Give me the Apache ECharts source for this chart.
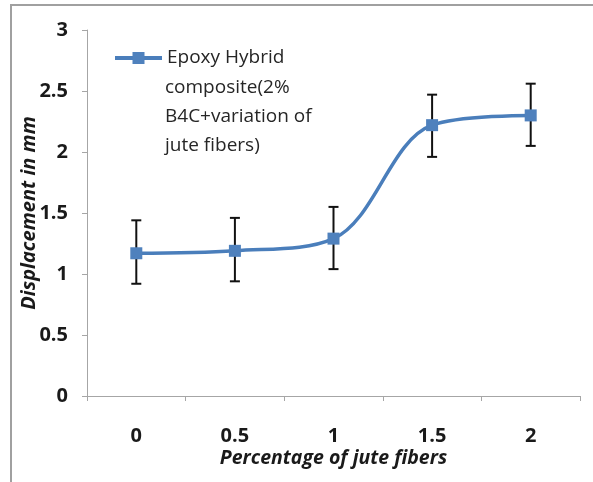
<!DOCTYPE html>
<html>
<head>
<meta charset="utf-8">
<script src="https://cdn.jsdelivr.net/npm/echarts@6/dist/echarts.min.js"></script>
<style>html,body{margin:0;padding:0;background:#fff}#c{width:593px;height:482px}</style>
</head>
<body>
<div id="c"></div>
<script>
var categories = ['0', '0.5', '1', '1.5', '2'];
var displacement = [1.17, 1.19, 1.29, 2.22, 2.30];
var errUpper = [1.44, 1.46, 1.55, 2.47, 2.56];
var errLower = [0.92, 0.94, 1.04, 1.96, 2.05];
var yTicks = [0, 0.5, 1, 1.5, 2, 2.5, 3];
var legendLines = ['Epoxy Hybrid', 'composite(2%', 'B4C+variation of', 'jute fibers)'];
var seriesName = legendLines.join(' ');

var FONT = '"Open Sans", "Noto Sans", sans-serif';
var chart = echarts.init(document.getElementById('c'), null, {renderer: 'canvas'});

var errData = categories.map(function (c, i) { return [i, errLower[i], errUpper[i]]; });

chart.setOption({
  animation: false,
  backgroundColor: '#fff',
  grid: {left: 87, right: 13, top: 30, bottom: 86},
  legend: {
    data: [{name: seriesName}],
    left: 113, top: 43.5, padding: 0,
    itemWidth: 47, itemHeight: 15,
    lineStyle: {width: 4, color: '#4a7ebb'},
    itemStyle: {color: '#4f81bd'},
    formatter: function () { return legendLines[0]; },
    textStyle: {fontFamily: FONT, fontSize: 19, color: '#262626', lineHeight: 29}
  },
  xAxis: {
    type: 'category', data: categories, boundaryGap: true,
    name: 'Percentage of jute fibers', nameLocation: 'middle', nameGap: 52, nameMoveOverlap: false,
    nameTextStyle: {fontFamily: FONT, fontSize: 19.5, fontStyle: 'italic', fontWeight: 'bold', color: '#1a1a1a'},
    axisLine: {lineStyle: {color: '#a6a6a6', width: 1}},
    axisTick: {show: true, length: 5, alignWithLabel: false, lineStyle: {color: '#a6a6a6'}},
    axisLabel: {margin: 30, fontFamily: FONT, fontSize: 20, fontWeight: 'bold', color: '#1a1a1a'}
  },
  yAxis: {
    type: 'value', min: 0, max: 3, interval: 0.5,
    name: 'Displacement in mm', nameLocation: 'middle', nameGap: 48, nameMoveOverlap: false,
    nameTextStyle: {fontFamily: FONT, fontSize: 20, fontStyle: 'italic', fontWeight: 'bold', color: '#1a1a1a'},
    axisLine: {show: true, lineStyle: {color: '#a6a6a6', width: 1}},
    axisTick: {show: true, length: 5, lineStyle: {color: '#a6a6a6'}},
    splitLine: {show: false},
    axisLabel: {margin: 19, fontFamily: FONT, fontSize: 20, fontWeight: 'bold', color: '#1a1a1a',
      formatter: function (v) { return yTicks.indexOf(v) >= 0 ? String(v) : ''; }}
  },
  graphic: [
    {type: 'line', shape: {x1: 10, y1: 5, x2: 593, y2: 5}, style: {stroke: '#a0a0a0', lineWidth: 2}, silent: true},
    {type: 'line', shape: {x1: 11, y1: 5, x2: 11, y2: 482}, style: {stroke: '#a0a0a0', lineWidth: 2}, silent: true},
    {type: 'text', left: 165, top: 73.5, silent: true,
      style: {text: legendLines.slice(1).join('\n'), font: '19px ' + FONT, fill: '#262626', lineHeight: 29}}
  ],
  series: [
    {
      name: seriesName, type: 'line', data: displacement, smooth: 0.35,
      symbol: 'rect', symbolSize: 12,
      lineStyle: {color: '#4a7ebb', width: 3.5},
      itemStyle: {color: '#4f81bd'},
      z: 3
    },
    {
      type: 'custom', data: errData, z: 2,
      renderItem: function (params, api) {
        var x = api.value(0);
        var lo = api.coord([x, api.value(1)]);
        var hi = api.coord([x, api.value(2)]);
        var hw = 5;
        var st = {stroke: '#111', lineWidth: 2};
        return {type: 'group', children: [
          {type: 'line', shape: {x1: lo[0], y1: lo[1], x2: hi[0], y2: hi[1]}, style: st},
          {type: 'line', shape: {x1: hi[0] - hw, y1: hi[1], x2: hi[0] + hw, y2: hi[1]}, style: st},
          {type: 'line', shape: {x1: lo[0] - hw, y1: lo[1], x2: lo[0] + hw, y2: lo[1]}, style: st}
        ]};
      }
    }
  ]
});
</script>
</body>
</html>
